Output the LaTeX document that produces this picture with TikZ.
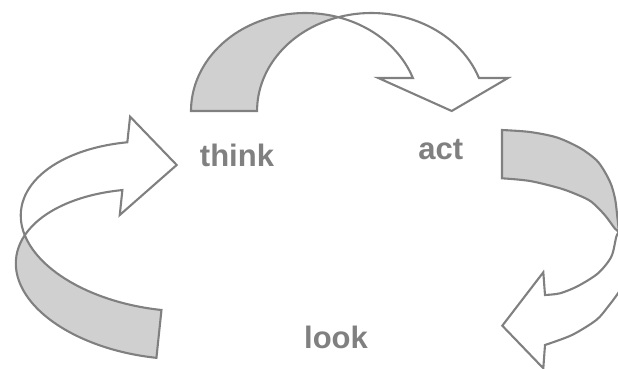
\documentclass[tikz,border=0pt]{standalone}
\usepackage{fontspec}
\setmainfont{Liberation Sans}
\usepackage{xcolor}
\usepackage{tikz}

\definecolor{edgegrey}{HTML}{808080}
\definecolor{backgrey}{HTML}{D0D0D0}

\begin{document}
\begin{tikzpicture}[
    x=1pt, y=1pt,
    back/.style={draw=edgegrey, fill=backgrey, line width=2.1pt},
    front/.style={draw=edgegrey, fill=white, line width=2.1pt},
    word/.style={font=\bfseries\fontsize{31}{37}\selectfont, text=edgegrey, inner sep=0pt, anchor=base}
]
\useasboundingbox (0,0) rectangle (618,369);
\clip (0,0) rectangle (618,369);

% Top arrow: think -> act
\filldraw[back] (191,258) arc[start angle=180, end angle=73.2, x radius=114.3, y radius=98]
    arc[start angle=106.8, end angle=180, x radius=114.3, y radius=98] -- cycle;
\filldraw[front] (338.3,351.8) arc[start angle=106.8, end angle=19.7, x radius=114.3, y radius=98]
    -- (508,291) -- (451.7,258) -- (378.3,291) -- (412.9,291)
    arc[start angle=19.7, end angle=73.2, x radius=114.3, y radius=98] -- cycle;

% Right arrow: act -> look
\filldraw[back] plot[smooth] coordinates {(502,239) (530,237) (557,231.5) (580,221) (596.3,209)
    (604.7,197.3) (611.3,184) (615.3,169) (617.3,152.3) (619,137)}
    -- plot[smooth] coordinates {(619,137) (614.7,140.7) (604.7,154) (591.3,167.3) (578,174)
    (560,180.7) (530,188) (502,190.7)} -- cycle;
\filldraw[front] plot[smooth] coordinates {(619,137) (616.3,132.3) (611.3,112.3) (598,95.7)
    (578,83) (560,75.7) (545,74)}
    -- (543.3,96.7) -- (502.3,43.3) -- (543.3,0.7) -- (545,24)
    -- plot[smooth] coordinates {(545,24) (572,34) (596.3,49) (608,62.3) (618,75.7) (626,89)} -- cycle;

% Left arrow: look -> think
\begin{scope}[shift={(176.7,204)}, rotate=-6]
  \filldraw[back] (0,-193.9) arc[start angle=270, end angle=163.4, x radius=150, y radius=84.2]
      arc[start angle=196.6, end angle=270, x radius=150, y radius=84.2] -- cycle;
  \filldraw[front] (-143.8,-85.7) arc[start angle=196.6, end angle=110.05, x radius=150, y radius=84.2]
      -- (-51.4,43.2) -- (0,0) -- (-51.4,-55.7) -- (-51.4,-30.6)
      arc[start angle=110.05, end angle=163.4, x radius=150, y radius=84.2] -- cycle;
\end{scope}

% Words
\node[word] (think) at (237,202.3) {think};
\node[word] (act) at (440.8,209.7) {act};
\node[word] (look) at (336,20.7) {look};

\end{tikzpicture}
\end{document}
